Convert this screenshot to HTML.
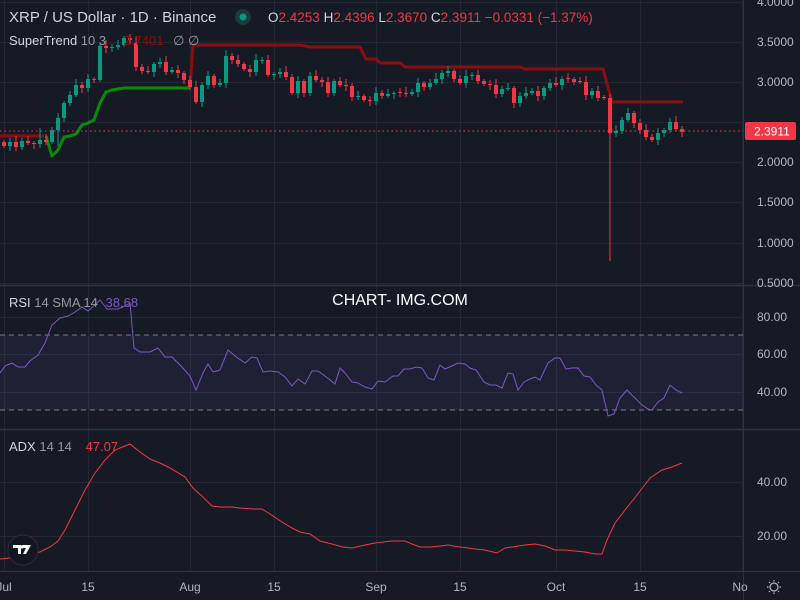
<!DOCTYPE html>
<html><head><meta charset="utf-8"><style>
html,body{margin:0;padding:0;background:#161a25;}
svg{display:block;font-family:"Liberation Sans",sans-serif;}
</style></head><body>
<svg id="c" width="800" height="600" xmlns="http://www.w3.org/2000/svg">
<rect width="800" height="600" fill="#161a25"/>
<g id="grid" stroke="#242834" stroke-width="1"></g>
<rect x="0" y="335" width="743" height="75" fill="#7e57c2" fill-opacity="0.1"/>
<line x1="0" y1="335" x2="743" y2="335" stroke="#787b86" stroke-dasharray="5,4"/>
<line x1="0" y1="410" x2="743" y2="410" stroke="#787b86" stroke-dasharray="5,4"/>
<line x1="0" y1="285.5" x2="800" y2="285.5" stroke="#2f3340" stroke-width="1.5"/>
<line x1="0" y1="429.5" x2="800" y2="429.5" stroke="#2f3340" stroke-width="1.5"/>
<line x1="0" y1="571.5" x2="800" y2="571.5" stroke="#2f3340"/>
<line x1="743.5" y1="0" x2="743.5" y2="600" stroke="#2f3340"/>
<g fill="none" stroke-width="3" stroke-linejoin="round">
<polyline points="0,136 44,136" stroke="#8b0d0d"/>
<polyline points="46,136 52,156 58,150 64,137 70,136 76,134 82,125 88,123 94,120 100,103 106,92 112,90 124,88 190,88" stroke="#098a09"/>
<polyline points="190,88 193,45 300,45 310,47 360,47 366,59 376,59 380,63 400,63 405,67 520,67 525,69 603,69 612,102 683,102" stroke="#8b0d0d"/>
</g>
<g id="candles"></g>
<line x1="0" y1="131" x2="743" y2="131" stroke="#f23645" stroke-dasharray="1.5,3"/>
<polyline fill="none" stroke="#7e57c2" stroke-width="1" points="0,373 5,366 12,363 18,367 25,367 30,361 38,355 45,343 52,325 60,318 68,316 75,312 82,307 88,311 95,305 100,300 107,309 118,309 125,306 130,303 134,348 140,352 150,352 158,348 165,357 172,357 182,367 190,376 196,390 203,373 208,364 213,372 220,370 228,350 235,356 245,363 252,357 257,358 263,372 270,371 278,372 285,377 292,386 298,379 305,384 312,371 318,371 325,376 330,380 335,384 340,368 345,373 352,382 358,383 365,387 372,389 378,381 385,382 393,376 398,376 404,369 410,369 416,367 422,368 428,378 434,380 440,365 445,369 452,366 458,363 465,364 470,368 476,370 484,382 490,385 496,385 502,388 508,373 513,374 518,390 524,382 530,379 535,377 540,380 548,363 555,358 560,358 566,369 572,368 578,368 584,376 590,377 596,385 602,390 608,416 614,414 620,398 627,390 635,398 642,405 648,409 652,410 658,402 664,398 670,385 676,390 682,393"/>
<polyline fill="none" stroke="#f23645" stroke-width="1" points="0,559 10,558 20,556 30,554 40,552 50,547 58,541 65,530 75,510 85,490 95,473 105,460 115,450 125,446 130,444 140,452 150,459 160,463 170,468 185,477 193,488 203,497 212,506 220,507 232,507 240,508 253,509 262,509 270,514 282,522 292,528 300,532 310,534 320,541 332,544 343,547 352,548 365,545 375,543 392,541 405,541 412,544 420,547 430,547 440,546 448,545 460,547 468,548 475,549 485,550 497,553 505,548 512,547 525,545 535,544 545,546 555,550 565,550 575,551 585,552 595,554 602,554 607,540 615,523 625,510 637,495 650,478 662,470 672,467 682,463"/>
<g font-size="12" fill="#b2b5be" text-anchor="start">
<text x="757" y="6">4.0000</text>
<text x="757" y="46">3.5000</text>
<text x="757" y="86">3.0000</text>
<text x="757" y="166">2.0000</text>
<text x="757" y="206">1.5000</text>
<text x="757" y="247">1.0000</text>
<text x="757" y="287">0.5000</text>
<text x="757" y="321">80.00</text>
<text x="757" y="358">60.00</text>
<text x="757" y="396">40.00</text>
<text x="757" y="486">40.00</text>
<text x="757" y="540">20.00</text>
</g>
<rect x="745" y="122" width="51" height="18" rx="2" fill="#f23645"/>
<text x="754" y="135.5" font-size="12" fill="#ffffff">2.3911</text>
<g font-size="12" fill="#b2b5be" text-anchor="middle">
<text x="4" y="591">Jul</text>
<text x="88" y="591">15</text>
<text x="190" y="591">Aug</text>
<text x="274" y="591">15</text>
<text x="376" y="591">Sep</text>
<text x="460" y="591">15</text>
<text x="556" y="591">Oct</text>
<text x="640" y="591">15</text>
<text x="740" y="591">No</text>
</g>
<g transform="translate(774,587)" stroke="#b2b5be" fill="none" stroke-width="1.2">
<circle r="4"/>
<path d="M0,-7V-5.5M0,7V5.5M-7,0H-5.5M7,0H5.5M-5,-5L-4,-4M5,5L4,4M-5,5L-4,4M5,-5L4,-4"/>
</g>
<text x="9" y="22" font-size="15" fill="#d1d4dc">XRP / US Dollar · 1D · Binance</text>
<circle cx="243" cy="17" r="8" fill="#1d3b3a"/>
<circle cx="243" cy="17" r="3.5" fill="#089981"/>
<text x="268" y="22" font-size="13.5"><tspan fill="#d1d4dc">O</tspan><tspan fill="#f23645">2.4253 </tspan><tspan fill="#d1d4dc">H</tspan><tspan fill="#f23645">2.4396 </tspan><tspan fill="#d1d4dc">L</tspan><tspan fill="#f23645">2.3670 </tspan><tspan fill="#d1d4dc">C</tspan><tspan fill="#f23645">2.3911 −0.0331 (−1.37%)</tspan></text>
<text x="9" y="45" font-size="13" fill="#d1d4dc">SuperTrend <tspan fill="#9598a1">10 3</tspan> <tspan fill="#8b0d0d" dx="14">2.7401</tspan> <tspan fill="#9598a1" dx="6">∅  ∅</tspan></text>
<text x="9" y="307" font-size="13" fill="#d1d4dc">RSI <tspan fill="#9598a1">14 SMA 14</tspan> <tspan fill="#7e57c2" dx="4">38.68</tspan></text>
<text x="9" y="451" font-size="13" fill="#d1d4dc">ADX <tspan fill="#9598a1">14 14</tspan> <tspan fill="#f23645" dx="10">47.07</tspan></text>
<text x="400" y="305" font-size="16" fill="#ffffff" text-anchor="middle">CHART- IMG.COM</text>
<circle cx="23" cy="550" r="15" fill="#131722" stroke="#2a2e39"/>
<path d="M13,545h8v9h-3v-6h-5z M22,545h9l-5,9h-3l3,-6h-4z" fill="#ffffff"/>
<circle cx="22" cy="547" r="1.6" fill="#ffffff"/>
</svg>
<script>
(function(){
var NS="http://www.w3.org/2000/svg";
function el(p,t,a){var e=document.createElementNS(NS,t);for(var k in a)e.setAttribute(k,a[k]);p.appendChild(e);return e;}
var g=document.getElementById('grid');
[4,88,190,274,376,460,556,640,742].forEach(function(x){el(g,'line',{x1:x+.5,y1:0,x2:x+.5,y2:571});});
[2,42,82,122,162,202,243,283,317,354,392,482,536].forEach(function(y){el(g,'line',{x1:0,y1:y+.5,x2:743,y2:y+.5});});
var closes=[146,142,147,141,143,144,140,142,130,118,103,95,85,88,79,80,46,48,47,45,38,40,67,71,72,64,62,72,70,73,80,87,102,85,76,85,83,56,60,64,69,72,60,60,75,74,72,77,93,81,93,76,80,82,93,81,85,86,97,96,100,101,93,96,94,93,93,94,92,83,87,83,79,73,71,79,83,76,75,81,84,85,94,89,88,103,96,93,91,96,88,83,85,79,79,82,82,95,91,98,98,133,131,120,113,123,130,137,140,133,130,122,129,132];
var opens={0:142,22:43,101:98};
var lows={101:261,9:146};var highs={6:128,16:44};
var cg=document.getElementById('candles');
var prev=142;
for(var i=0;i<closes.length;i++){
 var x=4+6*i,c=closes[i],o=(opens[i]!==undefined)?opens[i]:prev;
 if(Math.abs(o-c)<1){o=c+(i%2?1:-1);}
 var up=c<o,col=up?'#089981':'#f23645';
 var bt=Math.min(o,c),bb=Math.max(o,c);
 var hi=highs[i]!==undefined?highs[i]:bt-2-(i*7%5);
 var lo=lows[i]!==undefined?lows[i]:bb+2+(i*3%4);
 el(cg,'line',{x1:x,y1:hi,x2:x,y2:lo,stroke:col,'stroke-width':1});
 el(cg,'rect',{x:x-2,y:bt,width:4,height:Math.max(1,bb-bt),fill:col});
 prev=c;
}
})();
</script>
</body></html>
